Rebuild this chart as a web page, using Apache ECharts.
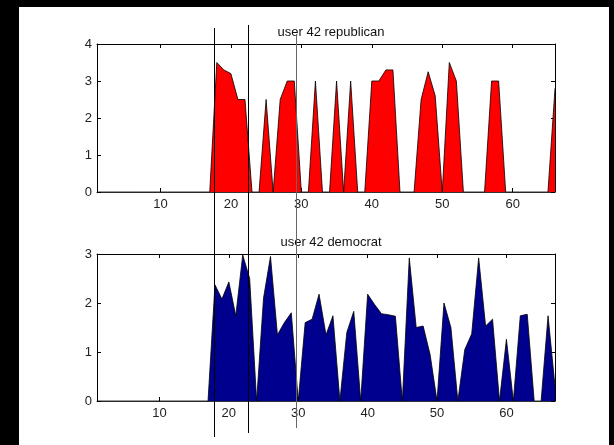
<!DOCTYPE html>
<html>
<head>
<meta charset="utf-8">
<script src="https://cdn.jsdelivr.net/npm/echarts@6/dist/echarts.min.js"></script>
<style>
html,body{margin:0;padding:0;background:#000;}
#c{width:614px;height:445px;}
</style>
</head>
<body>
<div id="c"></div>
<script>
// ---- data ----
const titles = ['user 42 republican', 'user 42 democrat'];
const xTicks = [10, 20, 30, 40, 50, 60];
const repYTicksMax = 4;
const demYTicksMax = 3;
// republican values for x = 1..66
const republican = [
  0, 0, 0, 0, 0, 0, 0, 0, 0, 0, 0, 0, 0, 0, 0, 0, 0,
  3.5, 3.3, 3.2, 2.5, 2.5, 0, 0, 2.5, 0, 2.5, 3, 3, 0,
  0, 3, 0, 0, 3, 0, 3, 0, 0, 3, 3, 3.3, 3.3, 0,
  0, 0, 2.5, 3.25, 2.6, 0, 3.5, 3, 0, 0, 0, 0, 3, 3,
  0, 0, 0, 0, 0, 0, 0, 2.8
];
// democrat values for x = 1..67
const democrat = [
  0, 0, 0, 0, 0, 0, 0, 0, 0, 0, 0, 0, 0, 0, 0, 0, 0,
  2.37, 2.08, 2.43, 1.74, 2.98, 2.5, 0, 2.1, 2.95, 1.35, 1.6, 1.8, 0,
  1.6, 1.67, 2.18, 1.35, 1.74, 0, 1.4, 1.83, 0, 2.18, 1.97, 1.78, 1.76, 1.73,
  0, 2.92, 1.5, 1.53, 0.95, 0, 2.0, 1.5, 0, 1.05, 1.37, 2.92, 1.53, 1.67,
  0, 1.26, 0, 1.74, 1.77, 0, 0, 1.74, 0.3
];
// vertical marker lines (in x units of the top axis)
const markerX = [17.6, 22.4, 29.2];

// ---- chart ----
const FONT = "'Liberation Sans', Arial, sans-serif";
const chart = echarts.init(document.getElementById('c'), null, {renderer: 'canvas'});

function pairs(arr) { return arr.map((v, i) => [i + 1, v]); }

function xAx(gi, max, pos, showLabel, lineColor) {
  return {
    type: 'value', gridIndex: gi, min: 1, max: max, position: pos,
    axisLine: {show: true, onZero: false, lineStyle: {color: lineColor, width: 1}},
    axisTick: {show: true, inside: true, length: 4, customValues: xTicks, lineStyle: {color: '#000'}},
    axisLabel: {show: showLabel, customValues: xTicks, margin: 6, fontSize: 13, color: '#222', fontFamily: FONT},
    splitLine: {show: false}
  };
}
function yAx(gi, max, pos, showLabel) {
  return {
    type: 'value', gridIndex: gi, min: 0, max: max, interval: 1, position: pos,
    axisLine: {show: true, onZero: false, lineStyle: {color: '#000', width: 1}},
    axisTick: {show: true, inside: true, length: 4, lineStyle: {color: '#000'}},
    axisLabel: {show: showLabel, margin: 5, fontSize: 13, color: '#222', fontFamily: FONT},
    splitLine: {show: false}
  };
}

const option = {
  backgroundColor: '#000',
  animation: false,
  title: [
    {text: titles[0], left: 326, top: 21, textAlign: 'center',
     textStyle: {fontSize: 13, fontWeight: 'normal', color: '#111', fontFamily: FONT}},
    {text: titles[1], left: 326, top: 231, textAlign: 'center',
     textStyle: {fontSize: 13, fontWeight: 'normal', color: '#111', fontFamily: FONT}}
  ],
  grid: [
    {left: 97, top: 44, width: 458, height: 148, show: true, backgroundColor: '#fff', borderWidth: 0, containLabel: false},
    {left: 97, top: 254, width: 458, height: 147, show: true, backgroundColor: '#fff', borderWidth: 0, containLabel: false}
  ],
  xAxis: [
    xAx(0, republican.length, 'bottom', true, '#333'),
    xAx(0, republican.length, 'top', false, '#000'),
    xAx(1, democrat.length, 'bottom', true, '#333'),
    xAx(1, democrat.length, 'top', false, '#000')
  ],
  yAxis: [
    yAx(0, repYTicksMax, 'left', true),
    yAx(0, repYTicksMax, 'right', false),
    yAx(1, demYTicksMax, 'left', true),
    yAx(1, demYTicksMax, 'right', false)
  ],
  series: [
    {type: 'line', xAxisIndex: 0, yAxisIndex: 0, data: pairs(republican),
     showSymbol: false, symbol: 'none',
     lineStyle: {color: '#000', width: 0.8}, areaStyle: {color: '#ff0000', opacity: 1}, z: 3},
    {type: 'line', xAxisIndex: 2, yAxisIndex: 2, data: pairs(democrat),
     showSymbol: false, symbol: 'none',
     lineStyle: {color: '#000', width: 0.8}, areaStyle: {color: '#00008f', opacity: 1}, z: 3}
  ],
  graphic: [
    {type: 'rect', shape: {x: 19, y: 7, width: 590, height: 438}, style: {fill: '#fff'}, z: -100, silent: true}
  ]
};
chart.setOption(option);

// marker lines positioned through the top x axis scale
const lineExtents = [[28, 437, '#000'], [25, 433, '#000'], [34, 428, '#666']];
const gfx = option.graphic.slice();
markerX.forEach((v, k) => {
  const px = Math.round(chart.convertToPixel({xAxisIndex: 0}, v)) + 0.5;
  gfx.push({type: 'line', shape: {x1: px, y1: lineExtents[k][0], x2: px, y2: lineExtents[k][1]},
            style: {stroke: lineExtents[k][2], lineWidth: 1}, z: 100, silent: true});
});
chart.setOption({graphic: gfx});
</script>
</body>
</html>
